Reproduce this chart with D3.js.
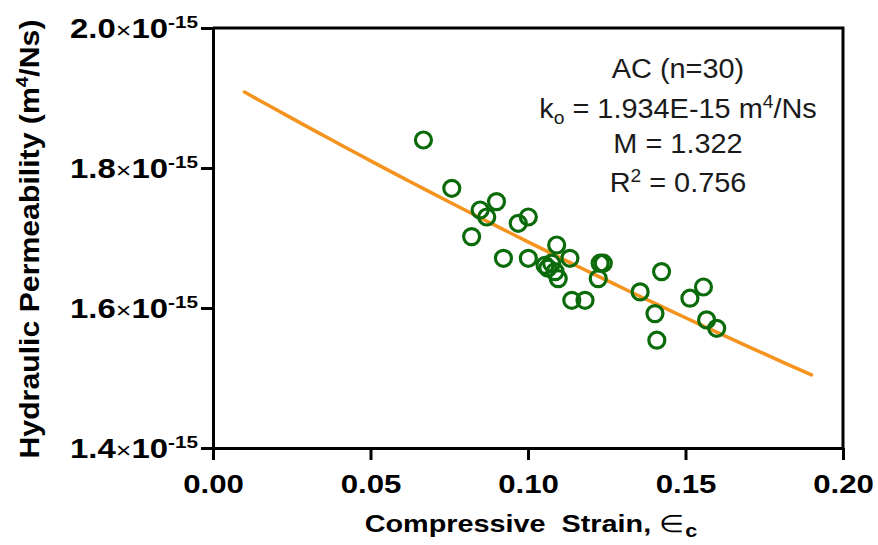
<!DOCTYPE html>
<html>
<head>
<meta charset="utf-8">
<script src="https://cdn.jsdelivr.net/npm/d3@7"></script>
<style>
  body { margin: 0; background: #fff; }
  svg { display: block; }
</style>
</head>
<body>
<div id="chart"></div>
<script>
// compressive strain of each AC sample
var strain = [0.0668, 0.0758, 0.0848, 0.0900, 0.0869, 0.0821, 0.0969, 0.1001,
              0.0922, 0.1001, 0.1091, 0.1054, 0.1075, 0.1086, 0.1096, 0.1063,
              0.1133, 0.1139, 0.1181, 0.1229, 0.1239, 0.1223, 0.1356, 0.1424,
              0.1403, 0.1409, 0.1514, 0.1557, 0.1567, 0.1599];
// hydraulic permeability, in units of 1e-15 m4/Ns
var permeability = [1.840, 1.771, 1.740, 1.752, 1.730, 1.702, 1.721, 1.730,
                    1.671, 1.671, 1.690, 1.661, 1.664, 1.652, 1.642, 1.657,
                    1.671, 1.611, 1.611, 1.664, 1.664, 1.642, 1.623, 1.652,
                    1.592, 1.554, 1.614, 1.630, 1.583, 1.571];
var xTicks = [0, 0.05, 0.10, 0.15, 0.20];
var yTicks = [1.4, 1.6, 1.8, 2.0];
// fit k = ko * exp(-M * strain), as given in the chart
var fitK0 = 1.934, fitM = 1.322, fitR2 = 0.756, sampleCount = 30;
var fitRange = [0.01, 0.19];

var W = 878, H = 545,
    font = "'Liberation Sans', Arial, sans-serif",
    wide = 1.2;   // the figure's lettering is wider than Arial

var x = d3.scaleLinear().domain([0, 0.2]).range([213, 843]),
    y = d3.scaleLinear().domain([1.4, 2.0]).range([448, 28]);

var svg = d3.select("#chart").append("svg")
    .attr("width", W)
    .attr("height", H);

// frame: top and right edges
svg.append("path")
    .attr("d", "M" + x(0) + "," + y(2.0) + "H" + x(0.2) + "V" + y(1.4))
    .attr("fill", "none")
    .attr("stroke", "#000")
    .attr("stroke-width", 3);

// x axis
var xAxis = d3.axisBottom(x)
    .tickValues(xTicks)
    .tickSize(12)
    .tickSizeOuter(0)
    .tickFormat(d3.format(".2f"));

var gx = svg.append("g")
    .attr("transform", "translate(0," + y(1.4) + ")")
    .call(xAxis);
gx.select(".domain").attr("stroke-width", 3);
gx.selectAll(".tick line").attr("stroke-width", 3);
gx.selectAll(".tick text")
    .attr("x", null).attr("y", null).attr("dy", null)
    .attr("transform", "translate(0,45) scale(" + wide + ",1)")
    .attr("fill", "#000")
    .style("font", "bold 26px " + font);

// y axis
var yAxis = d3.axisLeft(y)
    .tickValues(yTicks)
    .tickSize(12)
    .tickSizeOuter(0)
    .tickFormat("");

var gy = svg.append("g")
    .attr("transform", "translate(" + x(0) + ",0)")
    .call(yAxis);
gy.select(".domain").attr("stroke-width", 3);
gy.selectAll(".tick line").attr("stroke-width", 3);

var ylab = gy.selectAll(".tick").append("text")
    .attr("text-anchor", "end")
    .attr("transform", "translate(-15,9) scale(1.22,1)")
    .attr("fill", "#000")
    .style("font", "bold 27px " + font);
ylab.append("tspan").text(function(d) { return d.toFixed(1); });
ylab.append("tspan")
    .style("font-weight", "normal")
    .style("font-size", "22px")
    .text("\u00d7");
ylab.append("tspan").text("10");
ylab.append("tspan")
    .attr("dy", -10)
    .style("font-size", "17px")
    .text("-15");

// axis titles
var xt = svg.append("text")
    .attr("text-anchor", "middle")
    .attr("transform", "translate(" + (x(0.1) + 3) + ",532) scale(1.2,1)")
    .style("font", "bold 24px " + font);
xt.append("tspan").text("Compressive\u00a0\u00a0Strain, ");
xt.append("tspan").style("font-weight", "normal").text("\u2208");
xt.append("tspan").attr("dy", 5).style("font-size", "18px").text("c");

var yt = svg.append("text")
    .attr("text-anchor", "middle")
    .attr("transform", "translate(39," + (y(1.7) + 1) + ") rotate(-90) scale(1.12,1)")
    .style("font", "bold 27px " + font);
yt.append("tspan").text("Hydraulic Permeability (m");
yt.append("tspan").attr("dy", -11).style("font-size", "17px").text("4");
yt.append("tspan").attr("dy", 11).text("/Ns)");

// fitted curve
var fitX = d3.range(0, 41).map(function(i) {
    return fitRange[0] + (fitRange[1] - fitRange[0]) * i / 40;
});
var line = d3.line()
    .x(function(d) { return x(d); })
    .y(function(d) { return y(fitK0 * Math.exp(-fitM * d)); });

svg.append("path")
    .datum(fitX)
    .attr("d", line)
    .attr("fill", "none")
    .attr("stroke", "#f5931f")
    .attr("stroke-width", 3.5)
    .attr("stroke-linecap", "round");

// samples
svg.append("g").selectAll("circle")
    .data(strain)
    .enter()
    .append("circle")
    .attr("cx", function(d) { return x(d); })
    .attr("cy", function(d, i) { return y(permeability[i]); })
    .attr("r", 8)
    .attr("fill", "none")
    .attr("stroke", "#0b6b0b")
    .attr("stroke-width", 3.2);

// annotation
var note = svg.append("g")
    .attr("transform", "translate(678,0)")
    .style("font", "27px " + font)
    .attr("fill", "#1a1a1a");

function noteLine(yy) {
    return note.append("text")
        .attr("text-anchor", "middle")
        .attr("transform", "translate(0," + yy + ") scale(1.07,1)");
}

noteLine(78).text("AC (n=" + sampleCount + ")");

var l2 = noteLine(118);
l2.append("tspan").text("k");
l2.append("tspan").attr("dy", 6).style("font-size", "18px").text("o");
l2.append("tspan").attr("dy", -6).text(" = " + fitK0.toFixed(3) + "E-15 m");
l2.append("tspan").attr("dy", -10).style("font-size", "18px").text("4");
l2.append("tspan").attr("dy", 10).text("/Ns");

noteLine(153).text("M = " + fitM.toFixed(3));

var l4 = noteLine(192);
l4.append("tspan").text("R");
l4.append("tspan").attr("dy", -10).style("font-size", "18px").text("2");
l4.append("tspan").attr("dy", 10).text(" = " + fitR2.toFixed(3));
</script>
</body>
</html>
